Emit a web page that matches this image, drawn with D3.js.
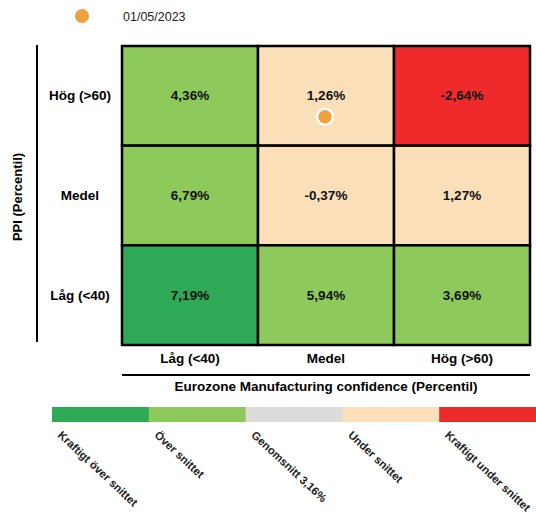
<!DOCTYPE html>
<html>
<head>
<meta charset="utf-8">
<script src="https://cdn.jsdelivr.net/npm/d3@7"></script>
<style>
  body { margin: 0; background: #fff; }
  svg { font-family: "Liberation Sans", Arial, sans-serif; }
</style>
</head>
<body>
<svg width="536" height="515"></svg>
<script>
var svg = d3.select("svg");

// data
var mfgLevels = ["Låg (<40)", "Medel", "Hög (>60)"];
var ppiLevels = ["Hög (>60)", "Medel", "Låg (<40)"];
var cellValues = [
  [4.36, 1.26, -2.64],
  [6.79, -0.37, 1.27],
  [7.19, 5.94, 3.69]
];
// index into legendLabels
var cellClass = [
  [1, 3, 4],
  [1, 3, 3],
  [0, 1, 1]
];
var legendLabels = ["Kraftigt över snittet", "Över snittet", "Genomsnitt 3,16%", "Under snittet", "Kraftigt under snittet"];
var legendColors = ["#2eaa57", "#8ec95b", "#dcdcdc", "#fbdfb8", "#ee2b2a"];
var currentDate = "01/05/2023";
var currentPoint = { ppi: "Hög (>60)", mfg: "Medel" };

var fmt = function(v) { return d3.format(".2f")(v).replace(".", ",").replace("−", "-") + "%"; };

var x = d3.scaleBand().domain(mfgLevels).range([122, 530]);
var y = d3.scaleBand().domain(ppiLevels).range([46, 345]);
var color = d3.scaleOrdinal().domain(d3.range(5)).range(legendColors);

var cells = [];
ppiLevels.forEach(function(p, i) {
  mfgLevels.forEach(function(m, j) {
    cells.push({ ppi: p, mfg: m, value: cellValues[i][j], cls: cellClass[i][j] });
  });
});

var g = svg.append("g");

g.selectAll("rect.cell")
  .data(cells)
  .enter().append("rect")
  .attr("class", "cell")
  .attr("x", function(d) { return x(d.mfg); })
  .attr("y", function(d) { return y(d.ppi); })
  .attr("width", x.bandwidth())
  .attr("height", y.bandwidth())
  .attr("fill", function(d) { return color(d.cls); })
  .attr("stroke", "#000")
  .attr("stroke-width", 2.5);

g.selectAll("text.val")
  .data(cells)
  .enter().append("text")
  .attr("class", "val")
  .attr("x", function(d) { return x(d.mfg) + x.bandwidth() / 2; })
  .attr("y", function(d) { return y(d.ppi) + y.bandwidth() / 2 + 4.5; })
  .attr("text-anchor", "middle")
  .attr("font-size", 13.5)
  .attr("font-weight", "bold")
  .attr("fill", "#111")
  .text(function(d) { return fmt(d.value); });

// current position dot
svg.append("circle")
  .attr("cx", x(currentPoint.mfg) + x.bandwidth() / 2 - 1)
  .attr("cy", y(currentPoint.ppi) + y.bandwidth() / 2 + 21)
  .attr("r", 8)
  .attr("fill", "#f0a03c")
  .attr("stroke", "#fff")
  .attr("stroke-width", 2.5);

// y axis labels
svg.append("line")
  .attr("x1", 37).attr("x2", 37)
  .attr("y1", 45).attr("y2", 342)
  .attr("stroke", "#000").attr("stroke-width", 2);

svg.selectAll("text.ylab")
  .data(ppiLevels)
  .enter().append("text")
  .attr("class", "ylab")
  .attr("x", 80)
  .attr("y", function(d) { return y(d) + y.bandwidth() / 2 + 4.5; })
  .attr("text-anchor", "middle")
  .attr("font-size", 13.5)
  .attr("font-weight", "bold")
  .text(function(d) { return d; });

svg.append("text")
  .attr("transform", "translate(22,197) rotate(-90)")
  .attr("text-anchor", "middle")
  .attr("font-size", 13)
  .attr("font-weight", "bold")
  .text("PPI (Percentil)");

// x axis labels
svg.selectAll("text.xlab")
  .data(mfgLevels)
  .enter().append("text")
  .attr("class", "xlab")
  .attr("x", function(d) { return x(d) + x.bandwidth() / 2; })
  .attr("y", 363)
  .attr("text-anchor", "middle")
  .attr("font-size", 13.5)
  .attr("font-weight", "bold")
  .text(function(d) { return d; });

svg.append("line")
  .attr("x1", 122).attr("x2", 530)
  .attr("y1", 375).attr("y2", 375)
  .attr("stroke", "#000").attr("stroke-width", 2);

svg.append("text")
  .attr("x", 326)
  .attr("y", 391)
  .attr("text-anchor", "middle")
  .attr("font-size", 13.5)
  .attr("font-weight", "bold")
  .text("Eurozone Manufacturing confidence (Percentil)");

// color legend bar
var lx = d3.scaleBand().domain(legendLabels).range([52, 536]);

svg.selectAll("rect.leg")
  .data(legendLabels)
  .enter().append("rect")
  .attr("class", "leg")
  .attr("x", function(d) { return lx(d); })
  .attr("y", 407)
  .attr("width", lx.bandwidth() + 0.5)
  .attr("height", 15)
  .attr("fill", function(d, i) { return legendColors[i]; });

svg.selectAll("text.leglab")
  .data(legendLabels)
  .enter().append("text")
  .attr("class", "leglab")
  .attr("transform", function(d) { return "translate(" + (lx(d) + 5) + ",436) rotate(43)"; })
  .attr("font-size", 11.3)
  .attr("font-weight", "bold")
  .attr("fill", "#222")
  .text(function(d) { return d; });

// date legend
svg.append("circle")
  .attr("cx", 82).attr("cy", 16).attr("r", 7)
  .attr("fill", "#f0a03c");

svg.append("text")
  .attr("x", 123).attr("y", 20.5)
  .attr("font-size", 12.5)
  .attr("fill", "#222")
  .text(currentDate);
</script>
</body>
</html>
